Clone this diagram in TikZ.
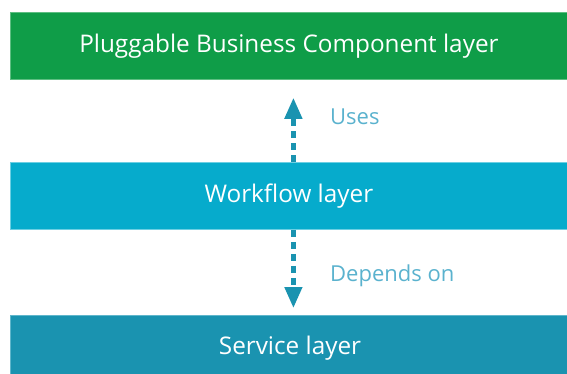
\documentclass[tikz,border=0pt]{standalone}
\usepackage{fontspec}
\setmainfont{Open Sans}
\usetikzlibrary{arrows.meta}
\definecolor{pgreen}{HTML}{0F9D48}
\definecolor{pgreenedge}{HTML}{5DBE82}
\definecolor{wblue}{HTML}{06ABCC}
\definecolor{wblueedge}{HTML}{6CCFE3}
\definecolor{sblue}{HTML}{1A93B0}
\definecolor{sblueedge}{HTML}{5FB6CB}
\definecolor{arrowc}{HTML}{1A93B0}
\definecolor{labelc}{HTML}{5AB2CE}
\tikzset{
  bar/.style={rectangle, inner sep=0pt, minimum width=557pt, minimum height=67pt,
    anchor=north west, text=white, font=\fontsize{24.3}{28}\selectfont, line width=0.8pt},
  dep/.style={draw=arrowc, line width=4.5pt, dash pattern=on 7pt off 5pt,
    -{Triangle[width=17pt,length=21pt]}},
  lbl/.style={text=labelc, font=\fontsize{22}{26}\selectfont, anchor=west, inner sep=0pt}
}
\begin{document}
\begin{tikzpicture}[x=1pt,y=-1pt]
\useasboundingbox (0,0) rectangle (567,374);
\node[bar, fill=pgreen, draw=pgreenedge] (pbc) at (10,12) {Pluggable Business Component layer};
\node[bar, fill=wblue, draw=wblueedge] (wf) at (10,162) {Workflow layer};
\node[bar, fill=sblue, draw=sblueedge] (sv) at (10,315) {};
\node[text=white, font=\fontsize{24.3}{28}\selectfont, inner sep=0pt] (svt) at (290,348.5) {Service layer};
\draw[dep, shorten >=18pt] ([xshift=4.5pt]wf.north) -- ([xshift=4.5pt]pbc.south);
\draw[dep, shorten >=7pt] ([xshift=4.5pt]wf.south) -- ([xshift=4.5pt]sv.north);
\node[lbl] (uses) at (330,117) {Uses};
\node[lbl] (dep) at (330,276) {Depends on};
\end{tikzpicture}
\end{document}
